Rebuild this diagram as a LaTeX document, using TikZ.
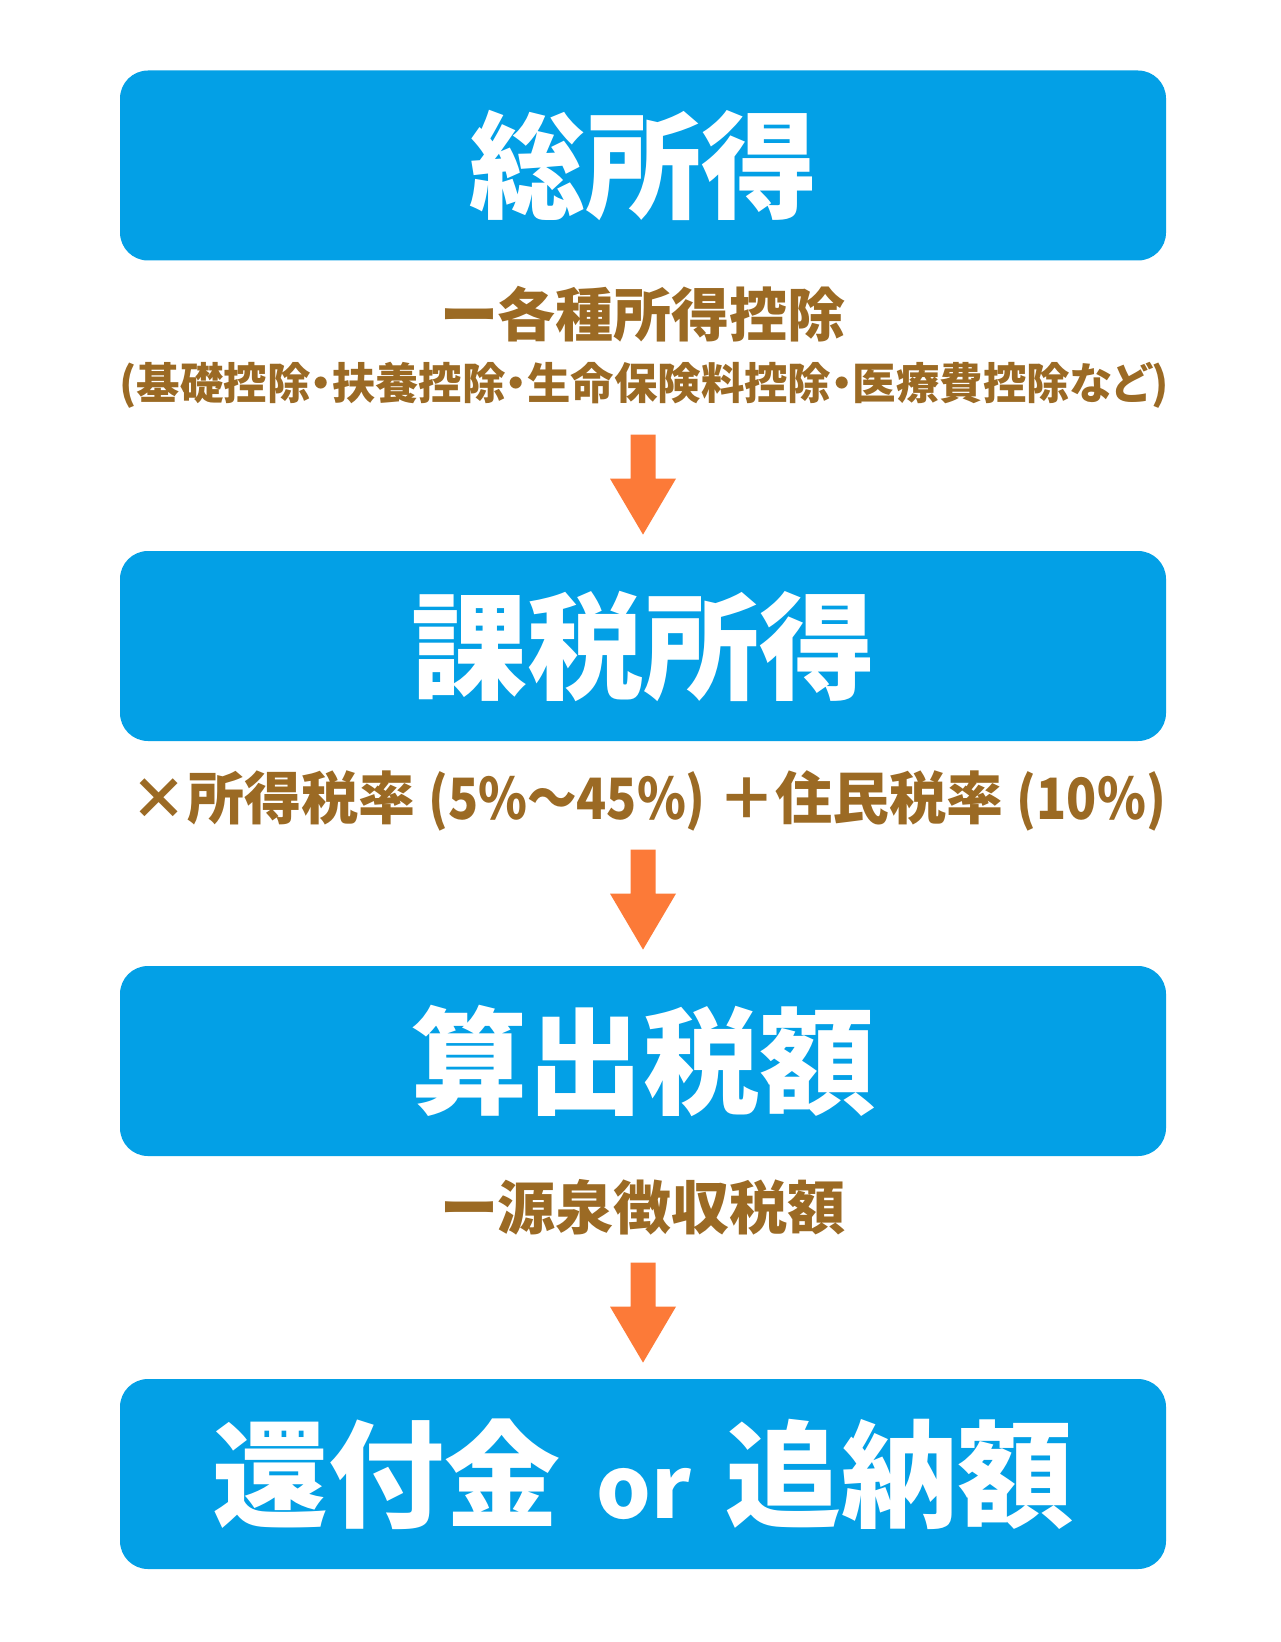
\documentclass[tikz,border=0pt]{standalone}
\usepackage{fontspec}
\usetikzlibrary{calc}
\setmainfont{Noto Sans CJK JP}[RawFeature={+palt}]
\newfontfamily\jpbox{Noto Sans CJK JP}
\definecolor{boxblue}{RGB}{3,160,230}
\definecolor{labbrown}{RGB}{155,106,36}
\definecolor{arroworange}{RGB}{252,122,56}
\tikzset{
  stagebox/.style={fill=boxblue, rounded corners=14pt, minimum width=523pt, minimum height=95pt,
    inner sep=0pt, text=white, font=\jpbox\bfseries\fontsize{58pt}{60pt}\selectfont,
    text height=46pt, text depth=2pt},
  steplabel/.style={text=labbrown, inner sep=0pt, anchor=base},
  bigarrow/.style={fill=arroworange}
}
\newcommand\blockarrow[1]{%
  \fill[bigarrow] (#1) ++(-12.5,0) -- ++(25,0) -- ++(0,44) -- ++(20.5,0) -- ++(-33,56)
    -- ++(-33,-56) -- ++(20.5,0) -- cycle;}
\newcommand\narrowpart[1]{\scalebox{0.87}[1]{#1}}
\begin{document}
\begin{tikzpicture}[x=0.5pt,y=-0.5pt]
\useasboundingbox (0,0) rectangle (1280,1642);
\fill[white] (0,0) rectangle (1280,1642);
% boxes
\node[stagebox] (b1) at (643,165.5) {総所得};
\node[stagebox] (b2) at (643,646) {課税所得};
\node[stagebox] (b3) at (643,1061) {算出税額};
\node[stagebox] (b4) at (643,1474) {還付金\hspace{18pt}{\fontsize{43pt}{45pt}\selectfont or}\hspace{17pt}追納額};
% labels
\node[steplabel, font=\bfseries\fontsize{29pt}{30pt}\selectfont] (l1) at (643,336) {ー各種所得控除};
\node[steplabel, font=\bfseries\fontsize{21.7pt}{24pt}\selectfont] (l2) at (644,400) {(基礎控除・扶養控除・生命保険料控除・医療費控除など)};
\node[steplabel, font=\bfseries\fontsize{28.5pt}{30pt}\selectfont] (l3) at (648,819) {×所得税率 \narrowpart{(5\%〜45\%)} ＋住民税率 \narrowpart{(10\%)}};
\node[steplabel, font=\bfseries\fontsize{29pt}{30pt}\selectfont] (l4) at (643,1229) {ー源泉徴収税額};
% arrows
\coordinate (a1) at ($(b2.north)+(0,-116)$);
\coordinate (a2) at ($(b3.north)+(0,-116)$);
\coordinate (a3) at ($(b4.north)+(0,-116)$);
\blockarrow{a1}
\blockarrow{a2}
\blockarrow{a3}
\end{tikzpicture}
\end{document}
